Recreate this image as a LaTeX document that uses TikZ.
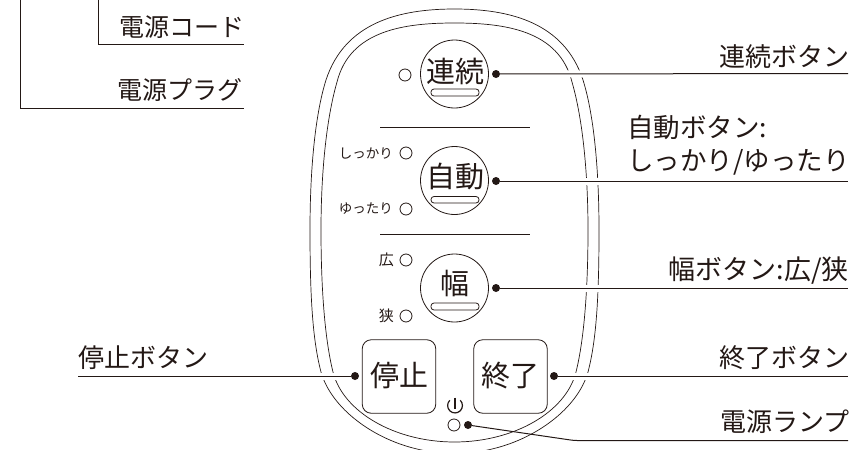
\documentclass[tikz,border=0pt]{standalone}
\usepackage{fontspec}
\setmainfont{Noto Sans CJK JP}
\definecolor{ink}{HTML}{231815}
\tikzset{
  ln/.style={draw=ink,line width=1pt},
  halo/.style={draw=white,line width=7pt},
  shell/.style={draw=ink,line width=0.7pt},
  lbl/.style={text=ink,font=\fontsize{26}{26}\selectfont,inner sep=0pt},
  lblb/.style={text=ink,font=\fontsize{27}{27}\selectfont,inner sep=0pt},
  lblc/.style={text=ink,font=\fontsize{26.5}{26.5}\selectfont,inner sep=0pt},
  lbltop/.style={text=ink,font=\fontsize{25}{25}\selectfont,inner sep=0pt},
  small/.style={text=ink,font=\fontsize{13.5}{13.5}\selectfont,inner sep=0pt},
  smallb/.style={text=ink,font=\fontsize{15}{15}\selectfont,inner sep=0pt},
  lamp/.style={circle,draw=ink,line width=0.8pt,minimum size=12pt,inner sep=0pt},
  dot/.style={circle,fill=ink,minimum size=8pt,inner sep=0pt},
  roundbtn/.style={circle,draw=ink,line width=0.8pt,minimum size=68pt,inner sep=0pt},
  sqbtn/.style={rectangle,rounded corners=9pt,draw=ink,line width=0.8pt,minimum size=73.5pt,inner sep=0pt},
  btntxt/.style={text=ink,font=\fontsize{29}{29}\selectfont,inner sep=0pt},
  bar/.style={draw=ink,line width=0.8pt,rounded corners=3pt}
}
\begin{document}
\begin{tikzpicture}[x=1pt,y=-1pt]
\useasboundingbox (0,0) rectangle (852,450);
% connector ends
\node[dot] (p1) at (496,74) {};
\node[dot] (p2) at (496,181) {};
\node[dot] (p3) at (496,288) {};
\node[dot] (p4) at (355,376) {};
\node[dot] (p5) at (554,376) {};
\node[dot] (p6) at (468,425) {};
\coordinate (c1) at (848,73.5); \coordinate (c2) at (848,181); \coordinate (c3) at (848,288);
\coordinate (c4) at (78,376); \coordinate (c5) at (848,376); \coordinate (c6) at (848,440.5); \coordinate (c7) at (574,440.5);
\begin{scope}
\clip (0,0) rectangle (852,450);
% outer shell
\draw[shell] (454.5,9) .. controls (400,9) and (345,22) .. (326,80)
 .. controls (315,115) and (310,170) .. (310,230)
 .. controls (310,290) and (312,335) .. (320,368)
 .. controls (328,405) and (370,438) .. (417,449)
 .. controls (435,454) and (474,454) .. (492,449)
 .. controls (539,438) and (581,405) .. (589,368)
 .. controls (597,335) and (599,290) .. (599,230)
 .. controls (599,170) and (594,115) .. (583,80)
 .. controls (564,22) and (509,9) .. (454.5,9) -- cycle;
% inner shell
\draw[shell] (454.5,23) .. controls (405,23) and (350,30) .. (337,82)
 .. controls (326,120) and (321,175) .. (321,230)
 .. controls (321,290) and (325,340) .. (333,372)
 .. controls (343,412) and (395,442) .. (454.5,442)
 .. controls (514,442) and (566,412) .. (576,372)
 .. controls (584,340) and (588,290) .. (588,230)
 .. controls (588,175) and (583,120) .. (572,82)
 .. controls (559,30) and (504,23) .. (454.5,23) -- cycle;
\end{scope}
% gaps in the shell where the connectors pass
\draw[halo] (p1) -- (c1);
\draw[halo] (p2) -- (c2);
\draw[halo] (p3) -- (c3);
\draw[halo] (p4) -- (c4);
\draw[halo] (p5) -- (c5);
% top left lines
\coordinate (a1) at (98,0); \coordinate (a2) at (98,44.5); \coordinate (a3) at (244,44.5);
\draw[ln] (a1) -- (a2) -- (a3);
\coordinate (b1) at (20,0); \coordinate (b2) at (20,108); \coordinate (b3) at (244,108);
\draw[ln] (b1) -- (b2) -- (b3);
\node[lbltop,anchor=base east] (cord) at (245,36) {電源コード};
\node[lbltop,anchor=base east] (plug) at (243,99) {電源プラグ};
% dividers
\coordinate (d1) at (380,127.5); \coordinate (d2) at (529.5,127.5);
\coordinate (e1) at (380,234.5); \coordinate (e2) at (529.5,234.5);
\draw[ln] (d1) -- (d2); \draw[ln] (e1) -- (e2);
% round buttons
\node[roundbtn] (b_ren) at (454.5,74) {};
\node[roundbtn] (b_jid) at (454.5,180.5) {};
\node[roundbtn] (b_hab) at (454.5,288) {};
\node[btntxt] (t_ren) at (455,71) {連続};
\node[btntxt] (t_jid) at (455,177) {自動};
\node[btntxt] (t_hab) at (455,283) {幅};
\draw[bar] (431,89) rectangle (479,96);
\draw[bar] (431,196.5) rectangle (479,203);
\draw[bar] (431,303) rectangle (479,310);
% lamps
\node[lamp] (l1) at (405,75) {};
\node[lamp] (l2) at (406,153) {};
\node[lamp] (l3) at (406,209) {};
\node[lamp] (l4) at (406,260) {};
\node[lamp] (l5) at (406,316) {};
\node[small,anchor=east] (s1) at (393,153) {しっかり};
\node[small,anchor=east] (s2) at (393,209) {ゆったり};
\node[smallb,anchor=east] (s3) at (394,260) {広};
\node[smallb,anchor=east] (s4) at (394,316) {狭};
% square buttons
\node[sqbtn] (stop) at (399,376.5) {};
\node[sqbtn] (end) at (510.5,376.5) {};
\node[btntxt] (t_stop) at (399,376) {停止};
\node[btntxt] (t_end) at (510.5,376) {終了};
% power symbol
\node[lamp] (pw) at (454,425) {};
\coordinate (pc) at (455,405.5);
\draw[draw=ink,line width=1.2pt] ([shift={(-5.2,-5.2)}]pc) arc[start angle=135,end angle=405,radius=7.4pt];
\draw[draw=ink,line width=1.2pt] (455,397.5) -- (455,408.5);
% right labels
\node[lbl,anchor=base east] (r1) at (850,66) {連続ボタン};
\node[lblc,anchor=base west] (r2a) at (627,137) {自動ボタン:};
\node[lblc,anchor=base west] (r2b) at (627,170) {しっかり/ゆったり};
\node[lblb,anchor=base east] (r3) at (849,279) {幅ボタン:広/狭};
\node[lbl,anchor=base east] (r4) at (850,367) {終了ボタン};
\node[lbl,anchor=base east] (r5) at (850,431) {電源ランプ};
\node[lbl,anchor=base west] (r6) at (78,367) {停止ボタン};
% connectors
\draw[ln] (p1) -- (c1);
\draw[ln] (p2) -- (c2);
\draw[ln] (p3) -- (c3);
\draw[ln] (p4) -- (c4);
\draw[ln] (p5) -- (c5);
\draw[ln,rounded corners=3pt] (p6) -- (c7) -- (c6);
\end{tikzpicture}
\end{document}
